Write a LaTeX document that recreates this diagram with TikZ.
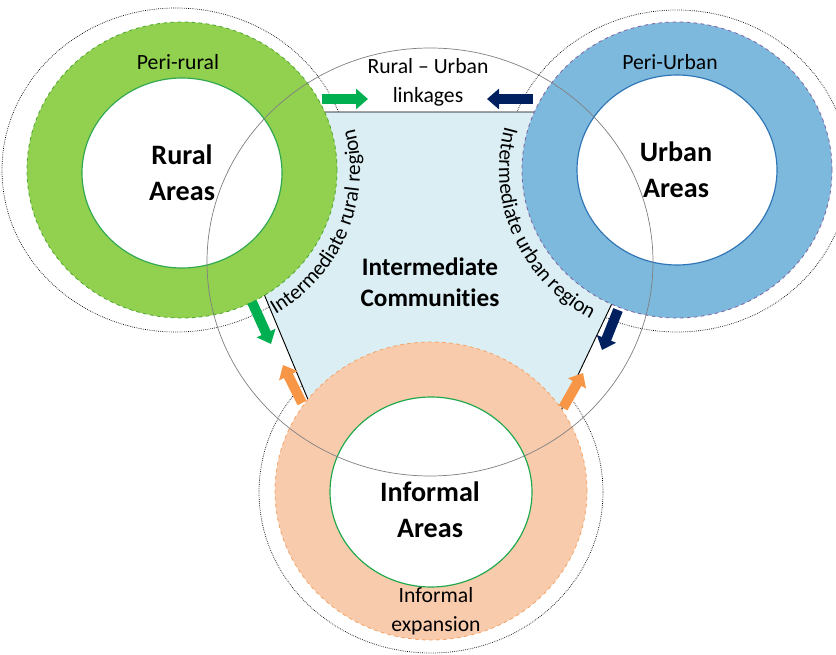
\documentclass[tikz,border=0pt]{standalone}
\usepackage{fontspec}
\setmainfont{Carlito}[Ligatures=NoCommon]
\usetikzlibrary{arrows.meta,decorations.text}

\definecolor{ruralFill}{HTML}{92D050}
\definecolor{ruralEdge}{HTML}{4CA62F}
\definecolor{ruralLine}{HTML}{2FA84F}
\definecolor{urbanFill}{HTML}{7DB8DD}
\definecolor{urbanEdge}{HTML}{8064A2}
\definecolor{urbanLine}{HTML}{2E75B6}
\definecolor{informalFill}{HTML}{F8CBAD}
\definecolor{informalEdge}{HTML}{F4A466}
\definecolor{informalLine}{HTML}{1FA84A}
\definecolor{interFill}{HTML}{DAEEF3}
\definecolor{arrowGreen}{HTML}{00B050}
\definecolor{arrowNavy}{HTML}{002060}
\definecolor{arrowOrange}{HTML}{F79646}

\begin{document}
\begin{tikzpicture}[x=0.03cm,y=0.03cm,
    blockarrow/.style={line width=3mm,-{Triangle[width=6mm,length=3.6mm]}},
    halo/.style={densely dotted,line width=0.6pt},
    arealabel/.style={align=center,font=\fontsize{24}{31}\selectfont\bfseries},
    peri/.style={align=center,font=\fontsize{18.5}{25}\selectfont},
    curved/.style={decorate,decoration={text along path,text align=center,
        text={|\fontsize{18}{20}\selectfont|#1}}}]
    \useasboundingbox (0,0) rectangle (836,-655);
    \coordinate (ruralC) at (182,-170);
    \coordinate (urbanC) at (677,-170);
    \coordinate (informalC) at (431,-491);
    % dotted outer halos
    \draw[halo] (176,-170) ellipse [x radius=174, y radius=162];
    \draw[halo] (677,-171) ellipse [x radius=172, y radius=161];
    \draw[halo] (431,-492) ellipse [x radius=172, y radius=161];
    % intermediate zone
    \filldraw[fill=interFill,draw=black,line width=0.8pt]
        (188,-112) -- (703,-112) -- (490,-560) -- (375,-560) -- cycle;
    % rings
    \filldraw[fill=ruralFill,draw=ruralEdge,dashed,line width=0.7pt] (ruralC) ellipse [x radius=155, y radius=148];
    \filldraw[fill=white,draw=ruralLine,line width=1pt] (182,-173) ellipse [x radius=100, y radius=95];
    \filldraw[fill=urbanFill,draw=urbanEdge,dashed,line width=0.7pt] (urbanC) ellipse [x radius=155, y radius=148];
    \filldraw[fill=white,draw=urbanLine,line width=1pt] (urbanC) ellipse [x radius=100, y radius=95];
    \filldraw[fill=informalFill,draw=informalEdge,dashed,line width=0.7pt] (informalC) ellipse [x radius=156, y radius=149];
    \filldraw[fill=white,draw=informalLine,line width=1pt] (431,-492) ellipse [x radius=101, y radius=95];
    % big circle
    \draw[gray,line width=0.6pt] (430,-262) ellipse [x radius=223, y radius=214];
    % linkage arrows
    \coordinate (gTopA) at (322,-99);
    \coordinate (gTopB) at (368,-99);
    \coordinate (nTopA) at (533,-99);
    \coordinate (nTopB) at (487,-99);
    \coordinate (gLowA) at (252,-302);
    \coordinate (gLowB) at (271,-344);
    \coordinate (oLeftA) at (302,-403);
    \coordinate (oLeftB) at (283,-365);
    \coordinate (nLowA) at (618,-310);
    \coordinate (nLowB) at (602,-350);
    \coordinate (oRightA) at (563,-408);
    \coordinate (oRightB) at (583,-373);
    \draw[blockarrow,arrowGreen] (gTopA) -- (gTopB);
    \draw[blockarrow,arrowNavy] (nTopA) -- (nTopB);
    \draw[blockarrow,arrowGreen] (gLowA) -- (gLowB);
    \draw[blockarrow,arrowNavy] (nLowA) -- (nLowB);
    \draw[blockarrow,arrowOrange] (oLeftA) -- (oLeftB);
    \draw[blockarrow,arrowOrange] (oRightA) -- (oRightB);
    % labels
    \node[peri] (periRural) at (178,-62) {Peri-rural};
    \node[peri] (periUrban) at (670,-62) {Peri-Urban};
    \node[peri] (linkage) at (428,-82) {Rural – Urban\\linkages};
    \node[peri] (expansion) at (436,-611) {Informal\\expansion};
    \node[arealabel] (rural) at (182,-173) {Rural\\Areas};
    \node[arealabel] (urban) at (676,-170) {Urban\\Areas};
    \node[arealabel] (informal) at (430,-510) {Informal\\Areas};
    \node[align=center,font=\fontsize{21.5}{26.5}\selectfont\bfseries] (inter) at (430,-282) {Intermediate\\Communities};
    \path[curved={Intermediate rural region}] (ruralC) ++(-62:178 and 170)
        arc[start angle=-62, end angle=18, x radius=178, y radius=170];
    \path[curved={Intermediate urban region}] (urbanC) ++(163:178 and 170)
        arc[start angle=163, end angle=243, x radius=178, y radius=170];
\end{tikzpicture}
\end{document}
